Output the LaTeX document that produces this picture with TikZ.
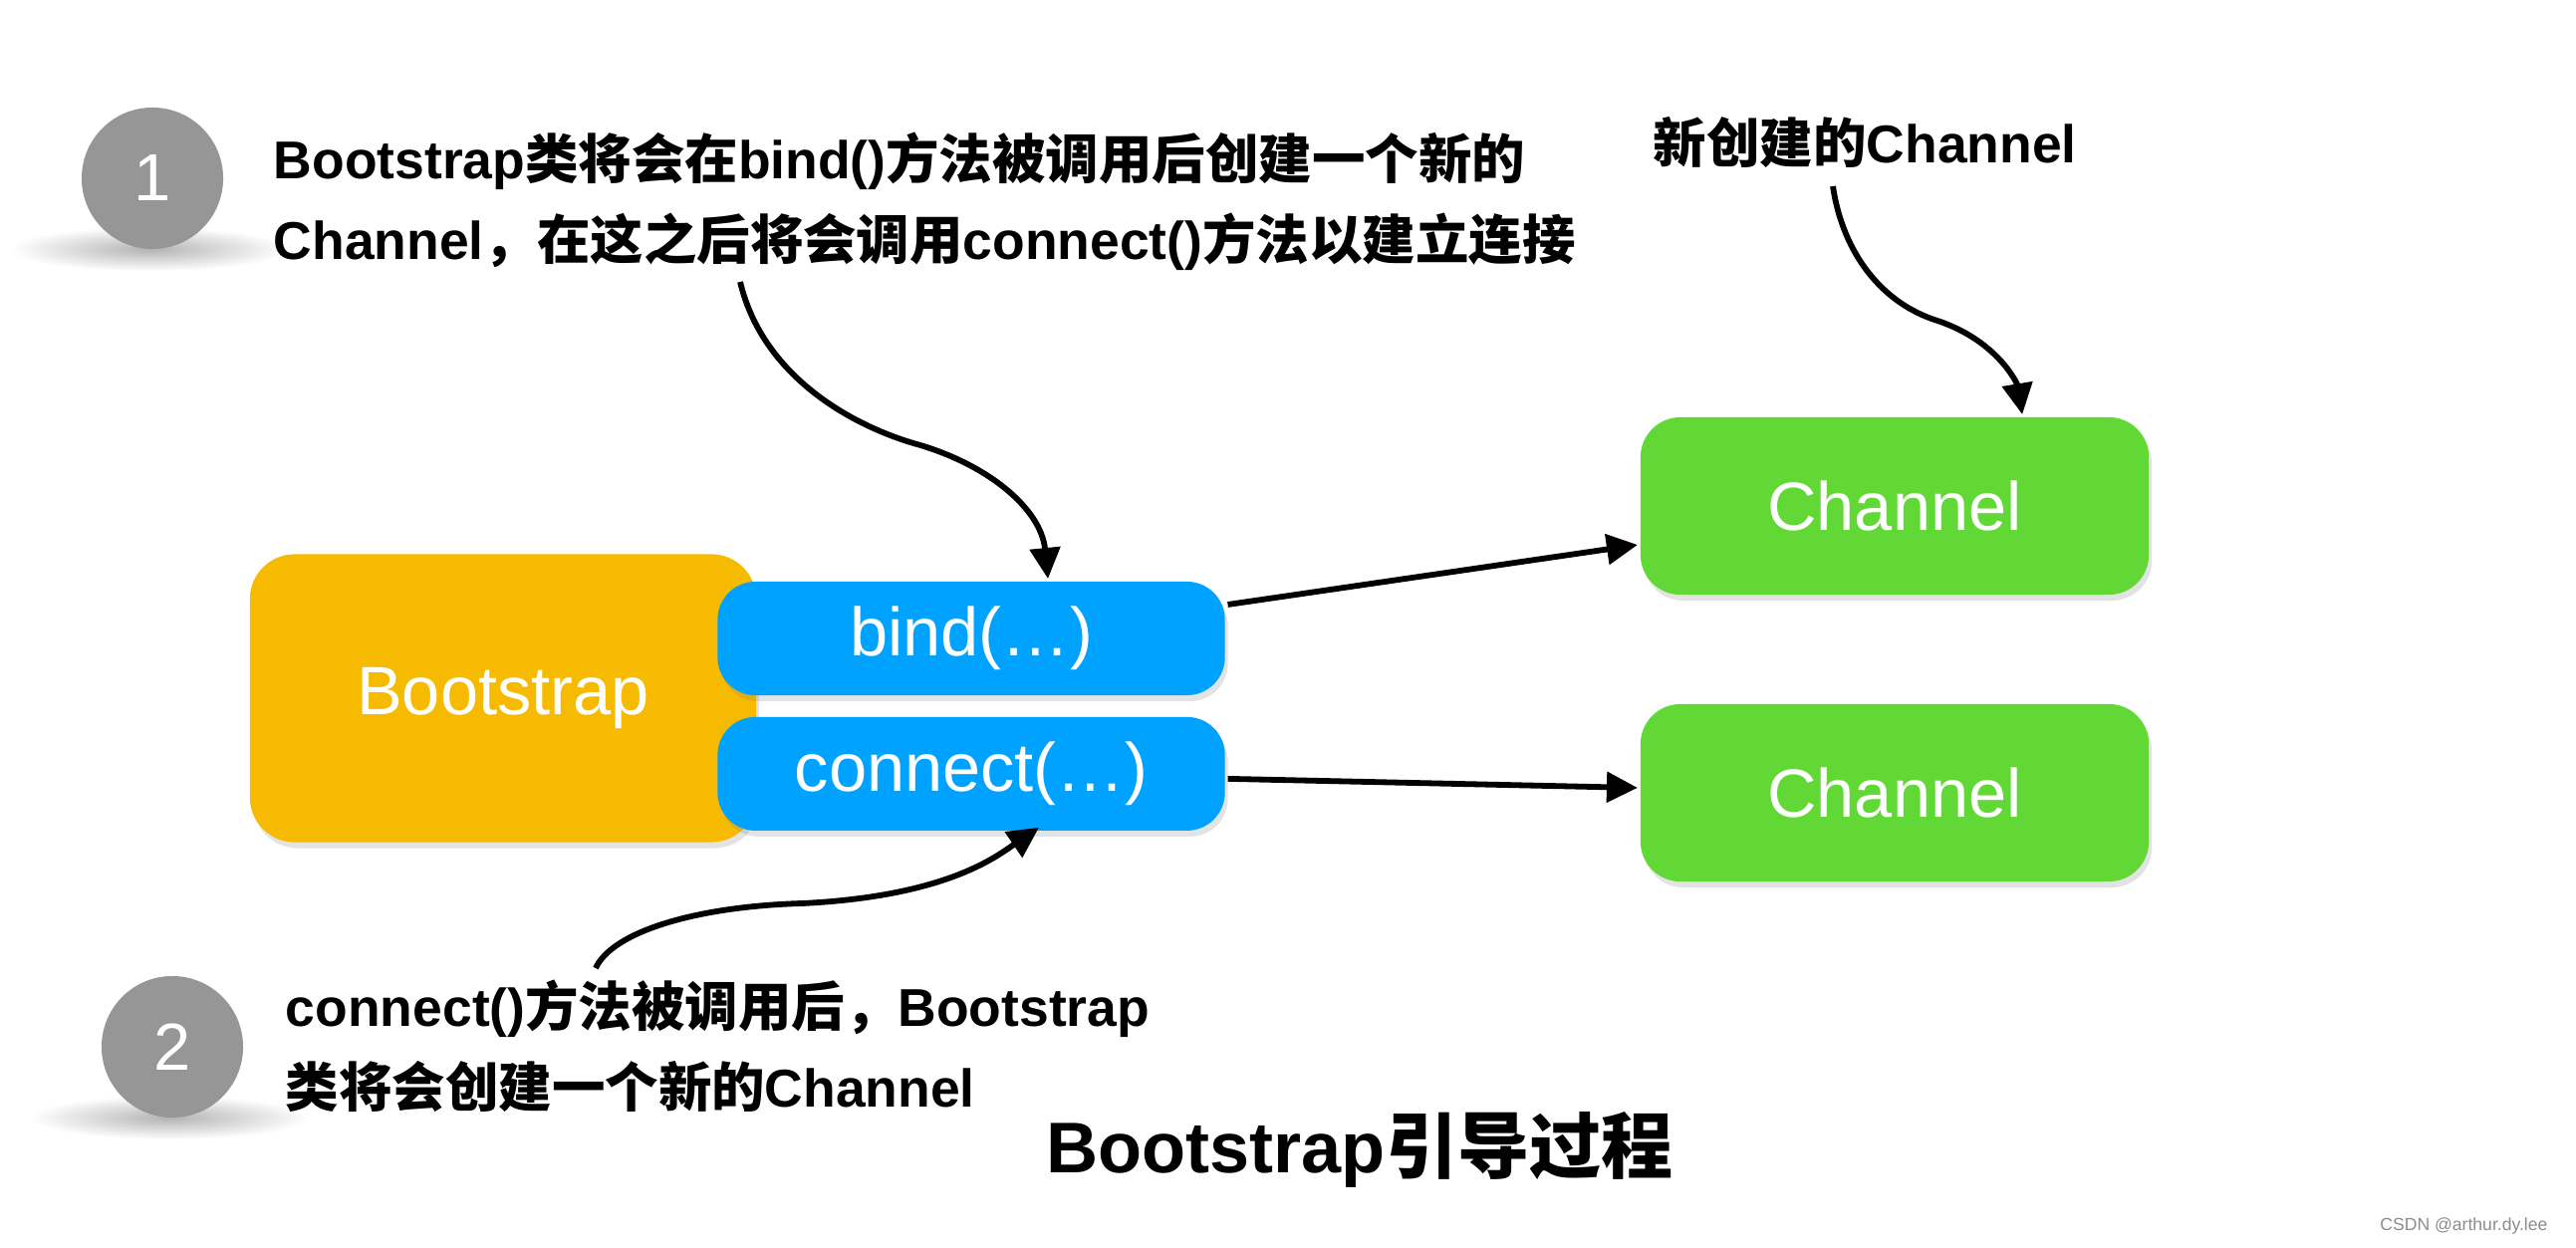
\documentclass[tikz,border=0pt]{standalone}
\usepackage{fontspec}
\setmainfont{Liberation Sans}
\newfontfamily\cjk{Noto Sans CJK SC}
\usepackage{xcolor}
\usetikzlibrary{arrows.meta,shadows,positioning}
\definecolor{bootorange}{RGB}{246,186,0}
\definecolor{callblue}{RGB}{0,162,255}
\definecolor{changreen}{RGB}{97,216,54}
\definecolor{stepgray}{RGB}{150,150,150}
\newcommand{\zh}[1]{{\cjk #1}}

\begin{document}
\begin{tikzpicture}[x=0.01cm, y=-0.01cm, line width=0.058cm,
  box/.style = {text=white, inner sep=0pt, font=\fontsize{19.5}{23}\selectfont, drop shadow={opacity=0.22, shadow xshift=0.03cm, shadow yshift=-0.06cm}},
  main/.style = {box, fill=changreen, minimum width=5.1cm, minimum height=1.78cm, rounded corners=0.4cm},
  call/.style = {box, fill=callblue, minimum width=5.09cm, minimum height=1.14cm, rounded corners=0.38cm},
  dot/.style = {circle, fill=stepgray, text=white, minimum size=1.42cm, inner sep=0pt, font=\fontsize{19}{23}\selectfont},
  note/.style = {align=left, inner sep=0pt, font=\bfseries\fontsize{15.2}{23}\selectfont},
  arr/.style = {-{Triangle[length=0.31cm, width=0.3cm]}}]
\fill[white] (0,0) rectangle (2586,1252);
\useasboundingbox (0,0) rectangle (2586,1252);

% soft shadows under the step numbers
\shade[inner color=black!30, outer color=white] (150,250) ellipse [x radius=1.4cm, y radius=0.22cm];
\shade[inner color=black!30, outer color=white] (170,1122) ellipse [x radius=1.4cm, y radius=0.22cm];
\node[dot] (one) at (153,179) {1};
\node[dot] (two) at (173,1051) {2};

\node[note, anchor=west] (note1) at (272,202) {Bootstrap\zh{类将会在}bind()\zh{方法被调用后创建一个新的}\\Channel\zh{，在这之后将会调用}connect()\zh{方法以建立连接}};
\node[note, anchor=west] (note2) at (284,1050) {connect()\zh{方法被调用后，}Bootstrap\\\zh{类将会创建一个新的}Channel};
\node[note, anchor=west] (note3) at (1657,143) {\zh{新创建的}Channel};

\node[box, fill=bootorange, minimum width=5.08cm, minimum height=2.89cm, rounded corners=0.45cm] (boot) at (505,701) {Bootstrap};
\node[call] (bind) at (975,641) {bind(…)};
\node[call, below=0.16cm of bind] (conn) {connect(…)};
\node[main] (ch1) at (1902,508) {Channel};
\node[main, below=1.04cm of ch1] (ch2) {Channel};

\coordinate (s1) at (743,283);
\coordinate (s2) at (598,972);
\coordinate (s3) at (1840,187);
\draw[arr] (s1) .. controls (765,375) and (850,425) .. (917,445) .. controls (990,465) and (1045,510) .. ([xshift=0.77cm]bind.north);
\draw[arr] (s2) .. controls (615,935) and (700,910) .. (805,907) .. controls (950,900) and (1000,860) .. ([xshift=0.68cm,yshift=0.06cm]conn.south);
\draw[arr] (s3) .. controls (1850,255) and (1890,305) .. (1945,322) .. controls (2005,342) and (2025,385) .. ([xshift=1.28cm]ch1.north);
\draw[arr] ([yshift=0.34cm]bind.east) -- ([yshift=-0.39cm]ch1.west);
\draw[arr] ([yshift=-0.05cm]conn.east) -- ([yshift=0.05cm]ch2.west);

\node[font=\bfseries\fontsize{20.5}{24}\selectfont] (title) at (1365,1154) {Bootstrap\zh{引导过程}};
\node[anchor=east, font=\fontsize{5}{6}\selectfont, text=black!45] (mark) at (2572,1231) {CSDN @arthur.dy.lee};
\end{tikzpicture}
\end{document}
